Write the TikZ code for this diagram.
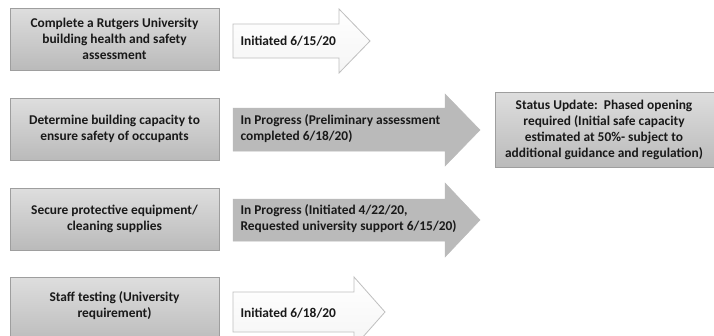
\documentclass[tikz,border=0pt]{standalone}
\usepackage{fontspec}
\setmainfont{Carlito}
\begin{document}
\begin{tikzpicture}[x=1pt,y=-1pt,
  taskbox/.style={draw=black!38,line width=0.8pt,top color=black!13,bottom color=black!27},
  boxtext/.style={font=\bfseries\fontsize{13.4}{16}\selectfont,align=center,text=black!90},
  arrowtext/.style={font=\bfseries\fontsize{13.4}{16}\selectfont,align=left,anchor=west,text=black!90},
  lightarrow/.style={draw=black!25,line width=0.8pt,top color=white,bottom color=black!4},
  darkarrow/.style={draw=black!27,line width=0.5pt,fill=black!27}]
\useasboundingbox (0,0) rectangle (714,335);
\fill[white] (0,0) rectangle (714,335);
\clip (0,0) rectangle (714,335);
% boxes
\draw[taskbox] (10,8) rectangle (219,70);
\node[boxtext] (b1) at (114.5,39) {Complete a Rutgers University\\building health and safety\\assessment};
\draw[taskbox] (10,98) rectangle (219,160);
\node[boxtext] (b2) at (114.5,129) {Determine building capacity to\\ensure safety of occupants};
\draw[taskbox] (10,188) rectangle (219,250);
\node[boxtext] (b3) at (114.5,219) {Secure protective equipment/\\cleaning supplies};
\draw[taskbox] (10,277) rectangle (219,345);
\node[boxtext] (b4) at (114.5,306) {Staff testing (University\\requirement)};
\draw[taskbox] (495,92) rectangle (714,167);
\node[boxtext] (s) at (604,130) {Status Update:\ \ Phased opening\\required (Initial safe capacity\\estimated at 50\%- subject to\\additional guidance and regulation)};
% arrows
\draw[lightarrow] (233,24) -- (339,24) -- (339,9) -- (370,41) -- (339,73) -- (339,58) -- (233,58) -- cycle;
\node[arrowtext] (a1) at (237,41) {Initiated 6/15/20};
\draw[darkarrow] (233,108) -- (445,108) -- (445,94) -- (480,130) -- (445,166) -- (445,151) -- (233,151) -- cycle;
\node[arrowtext] (a2) at (237,129) {In Progress (Preliminary assessment\\completed 6/18/20)};
\draw[darkarrow] (233,199) -- (445,199) -- (445,183) -- (480,220) -- (445,257) -- (445,241) -- (233,241) -- cycle;
\node[arrowtext] (a3) at (237,219) {In Progress (Initiated 4/22/20,\\Requested university support 6/15/20)};
\draw[lightarrow] (233,292) -- (354,292) -- (354,277) -- (385,312) -- (354,347) -- (354,332) -- (233,332) -- cycle;
\node[arrowtext] (a4) at (237,313) {Initiated 6/18/20};
\end{tikzpicture}
\end{document}
